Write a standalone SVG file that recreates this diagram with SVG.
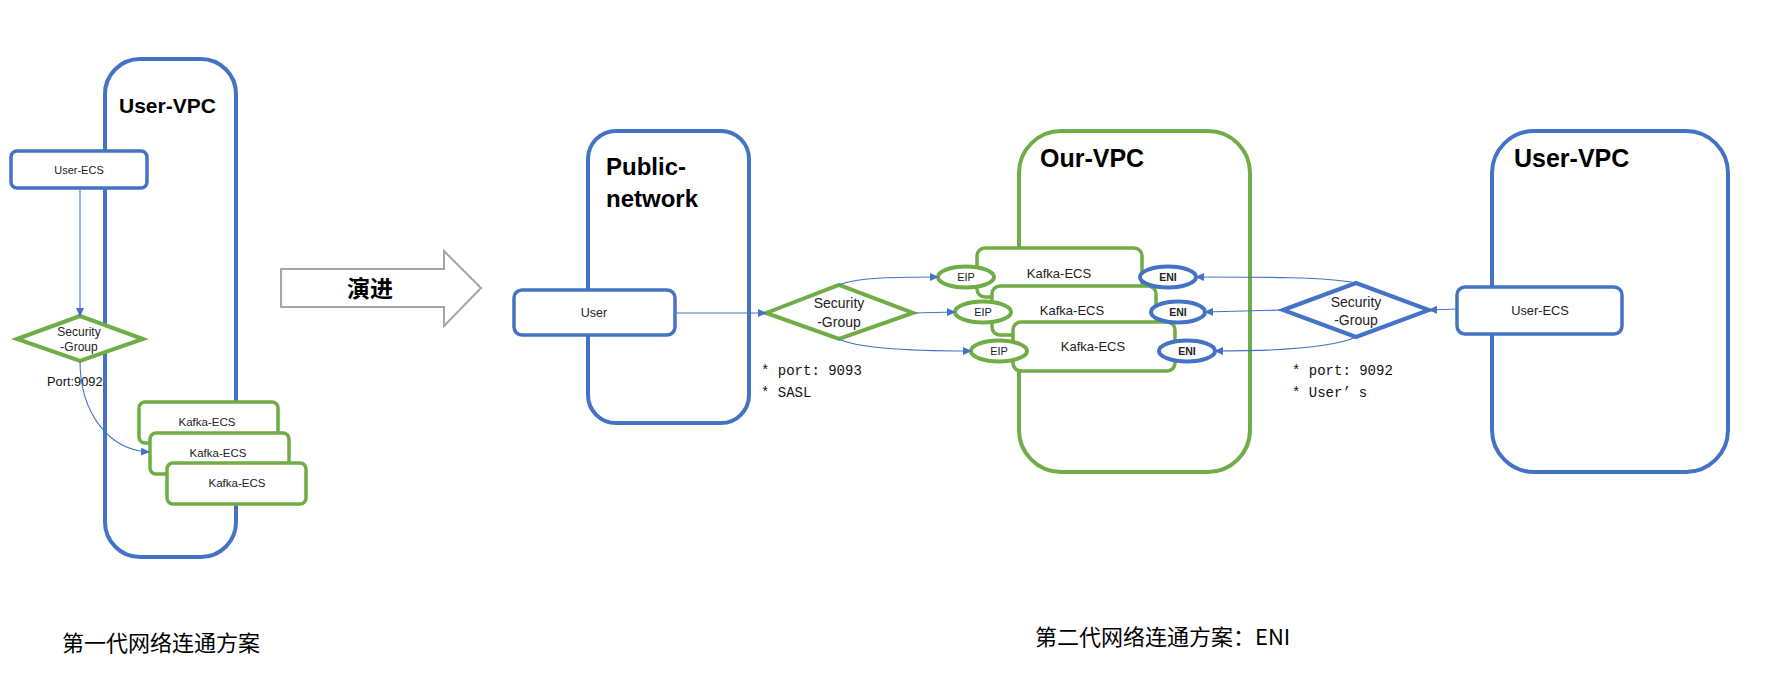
<svg xmlns="http://www.w3.org/2000/svg" width="1774" height="700" viewBox="0 0 1774 700">
<defs>
<marker id="arr" markerWidth="9" markerHeight="8" refX="8" refY="4" orient="auto" markerUnits="userSpaceOnUse">
<path d="M0,0 L9,4 L0,8 Z" fill="#4472C4"/>
</marker>
</defs>
<style>
.vpcB{fill:#fff;stroke:#4472C4;stroke-width:4}
.vpcG{fill:#fff;stroke:#70AD47;stroke-width:4}
.boxB{fill:#fff;stroke:#4472C4;stroke-width:3.5}
.boxG{fill:#fff;stroke:#70AD47;stroke-width:3.5}
.dG{fill:#fff;stroke:#70AD47;stroke-width:4;stroke-linejoin:miter}
.dB{fill:#fff;stroke:#4472C4;stroke-width:4;stroke-linejoin:miter}
.eG{fill:#fff;stroke:#70AD47;stroke-width:4}
.eB{fill:#fff;stroke:#4472C4;stroke-width:4}
.con{fill:none;stroke:#4472C4;stroke-width:1.1}
.title{font-family:"Liberation Sans","Noto Sans CJK SC",sans-serif;font-weight:bold;fill:#000}
.lbl{font-family:"Liberation Sans","Noto Sans CJK SC",sans-serif;fill:#222;text-anchor:middle;dominant-baseline:central}
.mono{font-family:"Liberation Mono","Noto Sans CJK SC",monospace;font-size:14px;fill:#111}
.cap{font-family:"Noto Sans CJK SC","Liberation Sans",sans-serif;font-size:22px;fill:#000}
</style>

<!-- left generation 1 -->
<g id="user-vpc-1">
<rect class="vpcB" x="105" y="59" width="131" height="498" rx="35"/>
<text class="title" x="119" y="113" font-size="21">User-VPC</text>
</g>
<g id="user-ecs-1">
<rect class="boxB" x="11" y="151" width="136" height="37" rx="6"/>
<text class="lbl" x="79" y="170" font-size="11">User-ECS</text>
</g>
<g id="sg-1">
<polygon class="dG" points="17,339 80,316 143,339 80,361"/>
<text class="lbl" x="79" y="332" font-size="12">Security</text>
<text class="lbl" x="79" y="347" font-size="12">-Group</text>
</g>
<g id="kafka-1a">
<rect class="boxG" x="139" y="402" width="139" height="41" rx="6"/>
<text class="lbl" x="207" y="422" font-size="11.5">Kafka-ECS</text>
</g>
<g id="kafka-1b">
<rect class="boxG" x="150" y="433" width="139" height="41" rx="6"/>
<text class="lbl" x="218" y="453" font-size="11.5">Kafka-ECS</text>
</g>
<g id="kafka-1c">
<rect class="boxG" x="167" y="463" width="139" height="41" rx="6"/>
<text class="lbl" x="237" y="483" font-size="11.5">Kafka-ECS</text>
</g>
<text id="port-1" x="47" y="386" font-family="Liberation Sans, sans-serif" font-size="12.8" fill="#111">Port:9092</text>

<!-- evolution arrow -->
<g id="evolve">
<polygon points="281,269 444,269 444,251 481,288 444,326 444,307 281,307" fill="#fff" stroke="#A6A6A6" stroke-width="2"/>
<text x="370" y="297" text-anchor="middle" font-family="Noto Sans CJK SC, sans-serif" font-size="23" font-weight="bold" fill="#000">演进</text>
</g>

<!-- generation 2 -->
<g id="public-network">
<rect class="vpcB" x="588" y="131" width="161" height="292" rx="28"/>
<text class="title" x="606" y="175" font-size="24">Public-</text>
<text class="title" x="606" y="207" font-size="24">network</text>
</g>
<g id="user">
<rect class="boxB" x="514" y="290" width="161" height="45" rx="8"/>
<text class="lbl" x="594" y="313" font-size="12.5">User</text>
</g>
<g id="sg-2">
<polygon class="dG" points="766,313 839,285 913,313 839,339"/>
<text class="lbl" x="839" y="303" font-size="14">Security</text>
<text class="lbl" x="839" y="322" font-size="14">-Group</text>
</g>
<g id="mono-1">
<text class="mono" x="761" y="375">* port: 9093</text>
<text class="mono" x="761" y="397">* SASL</text>
</g>

<g id="our-vpc">
<rect class="vpcG" x="1019" y="131" width="231" height="341" rx="42"/>
<text class="title" x="1040" y="167" font-size="25">Our-VPC</text>
</g>
<g id="kafka-2a">
<rect class="boxG" x="977" y="248" width="165" height="49" rx="8"/>
<text class="lbl" x="1059" y="273" font-size="13">Kafka-ECS</text>
</g>
<g id="kafka-2b">
<rect class="boxG" x="992" y="286" width="164" height="49" rx="8"/>
<text class="lbl" x="1072" y="310" font-size="13">Kafka-ECS</text>
</g>
<g id="kafka-2c">
<rect class="boxG" x="1013" y="322" width="162" height="49" rx="8"/>
<text class="lbl" x="1093" y="346" font-size="13">Kafka-ECS</text>
</g>
<g id="eip-1">
<ellipse class="eG" cx="966" cy="277" rx="28" ry="10.5"/>
<text class="lbl" x="966" y="277" font-size="11">EIP</text>
</g>
<g id="eip-2">
<ellipse class="eG" cx="983" cy="312" rx="28" ry="10.5"/>
<text class="lbl" x="983" y="312" font-size="11">EIP</text>
</g>
<g id="eip-3">
<ellipse class="eG" cx="999" cy="351" rx="28" ry="10.5"/>
<text class="lbl" x="999" y="351" font-size="11">EIP</text>
</g>
<g id="eni-1">
<ellipse class="eB" cx="1168" cy="277" rx="28" ry="10.5"/>
<text class="lbl" x="1168" y="277" font-size="10.5" font-weight="bold" fill="#000">ENI</text>
</g>
<g id="eni-2">
<ellipse class="eB" cx="1178" cy="312" rx="27" ry="10.5"/>
<text class="lbl" x="1178" y="312" font-size="10.5" font-weight="bold" fill="#000">ENI</text>
</g>
<g id="eni-3">
<ellipse class="eB" cx="1187" cy="351" rx="28" ry="10.5"/>
<text class="lbl" x="1187" y="351" font-size="10.5" font-weight="bold" fill="#000">ENI</text>
</g>

<g id="sg-3">
<polygon class="dB" points="1283,310 1356,283 1429,310 1356,337"/>
<text class="lbl" x="1356" y="302" font-size="14">Security</text>
<text class="lbl" x="1356" y="320" font-size="14">-Group</text>
</g>
<g id="mono-2">
<text class="mono" x="1292" y="375">* port: 9092</text>
<text class="mono" x="1292" y="397">* User’<tspan dx="8">s</tspan></text>
</g>

<g id="user-vpc-2">
<rect class="vpcB" x="1492" y="131" width="236" height="341" rx="42"/>
<text class="title" x="1514" y="167" font-size="25">User-VPC</text>
</g>
<g id="user-ecs-2">
<rect class="boxB" x="1457" y="287" width="165" height="47" rx="8"/>
<text class="lbl" x="1540" y="310" font-size="12.8">User-ECS</text>
</g>

<!-- connectors -->
<g id="connectors">
<path class="con" d="M80,190 L80,316" marker-end="url(#arr)"/>
<path class="con" d="M80,361 C80,412 108,450 149,452" marker-end="url(#arr)"/>
<path class="con" d="M675,313 L766,313" marker-end="url(#arr)"/>
<path class="con" d="M839,285 C858,277 900,277 938,277" marker-end="url(#arr)"/>
<path class="con" d="M913,313 L955,312" marker-end="url(#arr)"/>
<path class="con" d="M839,339 C858,349 920,351 971,351" marker-end="url(#arr)"/>
<path class="con" d="M1457,309 L1429,310" marker-end="url(#arr)"/>
<path class="con" d="M1356,283 C1330,277 1260,277 1196,277" marker-end="url(#arr)"/>
<path class="con" d="M1283,310 L1205,312" marker-end="url(#arr)"/>
<path class="con" d="M1356,337 C1330,349 1262,351 1215,351" marker-end="url(#arr)"/>
</g>

<!-- captions -->
<text id="cap-1" class="cap" x="62" y="651">第一代网络连通方案</text>
<text id="cap-2" class="cap" x="1035" y="645">第二代网络连通方案：ENI</text>
</svg>
